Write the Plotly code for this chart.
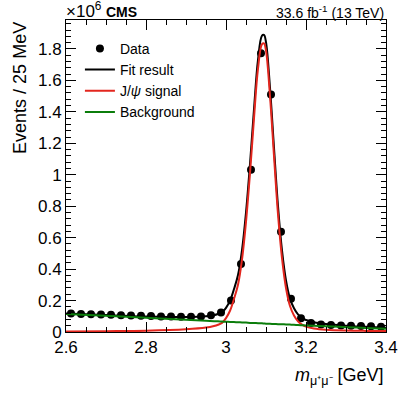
import numpy as np
import plotly.graph_objects as go

# binned data, 25 MeV bins, counts in millions
mass_bins = [2.6125, 2.6375, 2.6625, 2.6875, 2.7125, 2.7375, 2.7625, 2.7875,
             2.8125, 2.8375, 2.8625, 2.8875, 2.9125, 2.9375, 2.9625, 2.9875,
             3.0125, 3.0375, 3.0625, 3.0875, 3.1125, 3.1375, 3.1625, 3.1875,
             3.2125, 3.2375, 3.2625, 3.2875, 3.3125, 3.3375, 3.3625, 3.3875]
events = [0.117, 0.115, 0.113, 0.111, 0.109, 0.107, 0.105, 0.103,
          0.101, 0.099, 0.098, 0.097, 0.097, 0.098, 0.106, 0.124,
          0.201, 0.433, 1.032, 1.773, 1.510, 0.638, 0.212, 0.088,
          0.058, 0.048, 0.045, 0.042, 0.040, 0.038, 0.036, 0.034]
events_err = [0.004] * len(events)

# fit components
fit_mass = [2.60, 2.70, 2.80, 2.90, 2.95, 2.97, 2.98, 2.99, 3.00, 3.01, 3.02,
            3.03, 3.04, 3.05, 3.06, 3.07, 3.08, 3.09, 3.095, 3.10, 3.11, 3.12,
            3.13, 3.14, 3.15, 3.16, 3.17, 3.18, 3.19, 3.20, 3.22, 3.25, 3.30,
            3.35, 3.40]
signal = [0.003, 0.005, 0.008, 0.017, 0.028, 0.038, 0.046, 0.058, 0.088, 0.135, 0.21,
          0.30, 0.46, 0.70, 1.01, 1.36, 1.675, 1.83, 1.835, 1.79, 1.50, 1.12,
          0.75, 0.47, 0.28, 0.165, 0.105, 0.068, 0.047, 0.034, 0.022, 0.014, 0.009,
          0.007, 0.006]
background = [0.115, 0.103, 0.091, 0.078, 0.072, 0.069, 0.068, 0.066, 0.065, 0.064, 0.063,
              0.062, 0.061, 0.060, 0.058, 0.057, 0.056, 0.055, 0.054, 0.053, 0.052, 0.051,
              0.050, 0.049, 0.048, 0.047, 0.046, 0.044, 0.043, 0.042, 0.040, 0.037, 0.031,
              0.026, 0.021]
fit_total = np.array(signal) + np.array(background)

x_ticks = [2.6, 2.8, 3.0, 3.2, 3.4]
x_labels = ["2.6", "2.8", "3", "3.2", "3.4"]
y_ticks = [0, 0.2, 0.4, 0.6, 0.8, 1.0, 1.2, 1.4, 1.6, 1.8]
y_labels = ["0", "0.2", "0.4", "0.6", "0.8", "1", "1.2", "1.4", "1.6", "1.8"]

FONT = "Liberation Sans, Arial, sans-serif"

fig = go.Figure()

fig.add_trace(go.Scatter(
    x=mass_bins, y=events, mode="markers", name="Data",
    marker=dict(color="black", size=8),
    error_y=dict(type="data", array=events_err, color="black", thickness=1, width=0),
))
fig.add_trace(go.Scatter(
    x=fit_mass, y=fit_total, mode="lines", name="Fit result",
    line=dict(color="black", width=2, shape="spline"),
))
fig.add_trace(go.Scatter(
    x=fit_mass, y=signal, mode="lines", name="J/<i>ψ</i> signal",
    line=dict(color="#e3261e", width=2, shape="spline"),
))
fig.add_trace(go.Scatter(
    x=fit_mass, y=background, mode="lines", name="Background",
    line=dict(color="#0b7d0b", width=2, shape="spline"),
))

axis_style = dict(
    showline=True, linecolor="black", linewidth=1, mirror="allticks",
    ticks="inside", ticklen=10, tickcolor="black", showgrid=False, zeroline=False,
    tickfont=dict(family=FONT, size=17, color="black"), automargin=False,
)

fig.update_layout(
    width=407, height=396,
    margin=dict(l=66, r=21, t=20, b=64),
    plot_bgcolor="white", paper_bgcolor="white",
    font=dict(family=FONT, color="black"),
    showlegend=True,
    legend=dict(
        x=0.0435, y=0.959, xanchor="left", yanchor="top",
        bgcolor="rgba(0,0,0,0)", font=dict(family=FONT, size=14),
        itemwidth=30, tracegroupgap=0,
    ),
    xaxis=dict(
        range=[2.6, 3.4], tickvals=x_ticks, ticktext=x_labels,
        minor=dict(dtick=0.05, ticks="inside", ticklen=5, tickcolor="black"),
        **axis_style,
    ),
    yaxis=dict(
        range=[0, 1.984], tickvals=y_ticks, ticktext=y_labels,
        minor=dict(dtick=0.04, ticks="inside", ticklen=5, tickcolor="black"),
        **axis_style,
    ),
)

fig.add_annotation(
    text="Events / 25 MeV", textangle=-90, xref="paper", yref="paper",
    x=-0.144, y=1.0, xanchor="center", yanchor="top", showarrow=False,
    font=dict(family=FONT, size=18),
)
fig.add_annotation(
    text="<i>m</i><sub>μ⁺μ⁻</sub> [GeV]", xref="paper", yref="paper",
    x=1.0, y=-0.1, xanchor="right", yanchor="top", showarrow=False,
    font=dict(family=FONT, size=18),
)
fig.add_annotation(
    text="×10<sup>6</sup>", xref="paper", yref="paper",
    x=-0.005, y=1.0, xanchor="left", yanchor="bottom", showarrow=False,
    font=dict(family=FONT, size=17), yshift=-3,
)
fig.add_annotation(
    text="<b>CMS</b>", xref="paper", yref="paper",
    x=0.12, y=1.0, xanchor="left", yanchor="bottom", showarrow=False,
    font=dict(family=FONT, size=14), yshift=-2,
)
fig.add_annotation(
    text="33.6 fb<sup>-1</sup> (13 TeV)", xref="paper", yref="paper",
    x=1.0, y=1.0, xanchor="right", yanchor="bottom", showarrow=False,
    font=dict(family=FONT, size=14), yshift=-3,
)

# drop the default 8px body margin so the figure fills the window
fig.write_html("out.html", config={"displayModeBar": False},
               post_script="document.body.style.margin = '0';")
